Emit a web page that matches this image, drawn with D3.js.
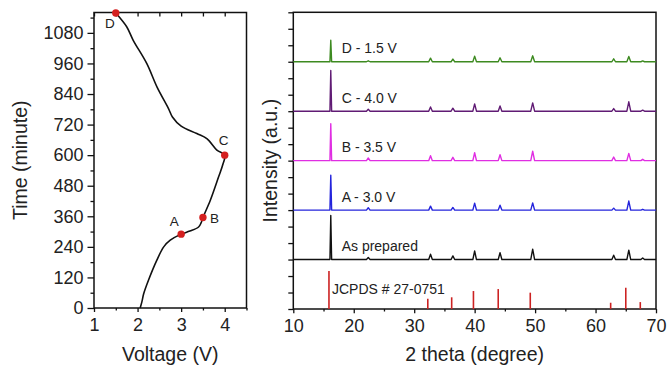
<!DOCTYPE html>
<html>
<head>
<meta charset="utf-8">
<script src="https://cdn.jsdelivr.net/npm/d3@7"></script>
<style>
  html, body { margin: 0; padding: 0; background: #fff; }
  svg { display: block; }
  text { font-family: "Liberation Sans", Arial, sans-serif; fill: #222; }
</style>
</head>
<body>
<svg id="chart" width="667" height="367"></svg>
<script>
// ---------- Left panel data: voltage vs time ----------
const curveVoltage = [2.06, 2.10, 2.14, 2.25, 2.44, 2.60, 2.75, 3.00, 3.20, 3.40, 3.46, 3.50, 3.67, 3.86, 3.96, 4.00,
                      3.82, 3.59, 3.36, 3.00, 2.80, 2.71, 2.45, 2.21, 1.90, 1.75, 1.50];
const curveTime    = [0, 25, 56, 109, 187, 240, 266, 290, 302, 318, 335, 355, 423, 515, 565, 600,
                      620, 665, 685, 714, 750, 783, 866, 960, 1051, 1104, 1158];
const pointLabels  = ["A", "B", "C", "D"];
const pointVoltage = [3.0, 3.5, 4.0, 1.5];
const pointTime    = [290, 355, 600, 1158];
const leftXTicks   = [1, 2, 3, 4];
const leftYTicks   = [0, 120, 240, 360, 480, 600, 720, 840, 960, 1080];

// ---------- Right panel data: XRD patterns ----------
const peakPositions = [16.2, 22.4, 32.7, 36.4, 40.0, 44.2, 49.6, 63.0, 65.5, 67.8];
const seriesNames   = ["As prepared", "A - 3.0 V", "B - 3.5 V", "C - 4.0 V", "D - 1.5 V"];
const seriesOffsets = [3, 6, 9, 12, 15];
const heightsAsPrepared = [2.67, 0.12, 0.32, 0.22, 0.52, 0.42, 0.63, 0.26, 0.57, 0.10];
const heightsA          = [2.12, 0.14, 0.24, 0.16, 0.42, 0.30, 0.44, 0.12, 0.55, 0.05];
const heightsB          = [2.24, 0.16, 0.30, 0.20, 0.48, 0.36, 0.57, 0.22, 0.44, 0.08];
const heightsC          = [2.47, 0.12, 0.26, 0.18, 0.44, 0.32, 0.50, 0.16, 0.57, 0.06];
const heightsD          = [1.31, 0.06, 0.22, 0.16, 0.34, 0.24, 0.36, 0.18, 0.32, 0.05];
const jcpdsLabel     = "JCPDS # 27-0751";
const jcpdsPositions = [15.9, 32.25, 36.2, 39.8, 43.9, 49.2, 62.5, 65.0, 67.4];
const jcpdsHeights   = [2.3, 0.62, 0.71, 1.09, 1.21, 0.99, 0.38, 1.29, 0.42];
const rightXTicks    = [10, 20, 30, 40, 50, 60, 70];

// ---------- styles ----------
const seriesColors = ["#111111", "#2424dc", "#e02ee2", "#601b74", "#3d8a20"];
const jcpdsColor = "#cc2222";
const markerColor = "#d42020";
const font = '"Liberation Sans", Arial, sans-serif';

const svg = d3.select("#chart");

// ================= LEFT PANEL =================
const L = { x0: 94, x1: 246.5, y0: 308, y1: 12.5 };
const xL = d3.scaleLinear().domain([1, 4.5]).range([L.x0, L.x1]);
const yL = d3.scaleLinear().domain([0, 1160]).range([L.y0, L.y1]);
const gL = svg.append("g");

gL.append("g").attr("transform", `translate(0,${L.y0})`)
  .call(d3.axisBottom(xL).tickValues(leftXTicks).tickSize(4).tickPadding(6).tickFormat(d3.format("d")))
  .call(g => g.select(".domain").remove())
  .call(g => g.selectAll("line").attr("stroke", "#111").attr("stroke-width", 1.3))
  .call(g => g.selectAll("text").attr("font-size", 18).attr("font-family", font).attr("fill", "#222"));
gL.append("g").attr("transform", `translate(0,${L.y0})`)
  .call(d3.axisBottom(xL).tickValues([1.5, 2.5, 3.5, 4.5]).tickSize(2.5).tickFormat(""))
  .call(g => g.select(".domain").remove())
  .call(g => g.selectAll("line").attr("stroke", "#111").attr("stroke-width", 1.3));
gL.append("g").attr("transform", `translate(0,${L.y1})`)
  .call(d3.axisBottom(xL).tickValues([1, 1.5, 2, 2.5, 3, 3.5, 4]).tickSize(4).tickFormat(""))
  .call(g => g.select(".domain").remove())
  .call(g => g.selectAll("line").attr("stroke", "#111").attr("stroke-width", 1.3));

gL.append("g").attr("transform", `translate(${L.x0},0)`)
  .call(d3.axisLeft(yL).tickValues(leftYTicks).tickSize(6.5).tickPadding(4).tickFormat(d3.format("d")))
  .call(g => g.select(".domain").remove())
  .call(g => g.selectAll("line").attr("stroke", "#111").attr("stroke-width", 1.3))
  .call(g => g.selectAll("text").attr("font-size", 18).attr("font-family", font).attr("fill", "#222"));
gL.append("g").attr("transform", `translate(${L.x0},0)`)
  .call(d3.axisLeft(yL).tickValues(leftYTicks.map(d => d + 60)).tickSize(3.5).tickFormat(""))
  .call(g => g.select(".domain").remove())
  .call(g => g.selectAll("line").attr("stroke", "#111").attr("stroke-width", 1.3));

gL.append("rect").attr("x", L.x0).attr("y", L.y1).attr("width", L.x1 - L.x0).attr("height", L.y0 - L.y1)
  .attr("fill", "none").attr("stroke", "#111").attr("stroke-width", 1.5);

const curvePts = curveVoltage.map((v, i) => [v, curveTime[i]]);
gL.append("path").datum(curvePts)
  .attr("d", d3.line().x(d => xL(d[0])).y(d => yL(d[1])).curve(d3.curveCatmullRom.alpha(0.5)))
  .attr("fill", "none").attr("stroke", "#111").attr("stroke-width", 1.6);

const labelOffsets = [[-7, -8, "middle"], [7, 5, "start"], [-1, -10, "middle"], [-6, 15, "middle"]];
pointLabels.forEach((lab, i) => {
  gL.append("circle").attr("cx", xL(pointVoltage[i])).attr("cy", yL(pointTime[i])).attr("r", 3.7)
    .attr("fill", markerColor);
  gL.append("text").attr("x", xL(pointVoltage[i]) + labelOffsets[i][0])
    .attr("y", yL(pointTime[i]) + labelOffsets[i][1])
    .attr("text-anchor", labelOffsets[i][2]).attr("font-size", 13.5).text(lab);
});

gL.append("text").attr("x", (L.x0 + L.x1) / 2).attr("y", 361).attr("text-anchor", "middle")
  .attr("font-size", 19.5).text("Voltage (V)");
gL.append("text").attr("transform", `translate(27,${(L.y0 + L.y1) / 2}) rotate(-90)`)
  .attr("text-anchor", "middle").attr("font-size", 19.5).text("Time (minute)");

// ================= RIGHT PANEL =================
const R = { x0: 293.3, x1: 656, y0: 309, y1: 12.3 };
const xR = d3.scaleLinear().domain([10, 70]).range([R.x0, R.x1]);
const yR = d3.scaleLinear().domain([0, 18]).range([R.y0, R.y1]);
const gR = svg.append("g");

gR.append("g").attr("transform", `translate(0,${R.y0})`)
  .call(d3.axisBottom(xR).tickValues(rightXTicks).tickSize(4.3).tickPadding(6).tickFormat(d3.format("d")))
  .call(g => g.select(".domain").remove())
  .call(g => g.selectAll("line").attr("stroke", "#111").attr("stroke-width", 1.3))
  .call(g => g.selectAll("text").attr("font-size", 18).attr("font-family", font).attr("fill", "#222"));
gR.append("g").attr("transform", `translate(0,${R.y0})`)
  .call(d3.axisBottom(xR).tickValues(rightXTicks.slice(0, -1).map(d => d + 5)).tickSize(2.5).tickFormat(""))
  .call(g => g.select(".domain").remove())
  .call(g => g.selectAll("line").attr("stroke", "#111").attr("stroke-width", 1.3));
gR.append("g").attr("transform", `translate(${R.x0},0)`)
  .call(d3.axisLeft(yR).tickValues(d3.range(0, 19)).tickSize(5).tickFormat(""))
  .call(g => g.select(".domain").remove())
  .call(g => g.selectAll("line").attr("stroke", "#111").attr("stroke-width", 1.3));

gR.append("rect").attr("x", R.x0).attr("y", R.y1).attr("width", R.x1 - R.x0).attr("height", R.y0 - R.y1)
  .attr("fill", "none").attr("stroke", "#111").attr("stroke-width", 1.5);

const allHeights = [heightsAsPrepared, heightsA, heightsB, heightsC, heightsD];
const halfWidth = [0.14, 0.3, 0.3, 0.3, 0.3, 0.3, 0.32, 0.3, 0.32, 0.3];
const line = d3.line().x(d => xR(d[0])).y(d => yR(d[1]));
allHeights.forEach((hs, si) => {
  const off = seriesOffsets[si];
  const pts = [[10, off]];
  peakPositions.forEach((p, k) => {
    pts.push([p - halfWidth[k], off]);
    pts.push([p, off + hs[k]]);
    pts.push([p + halfWidth[k], off]);
  });
  pts.push([70, off]);
  gR.append("path").datum(pts).attr("d", line)
    .attr("fill", "none").attr("stroke", seriesColors[si]).attr("stroke-width", 1.4)
    .attr("stroke-linejoin", "round");
  gR.append("text").attr("x", xR(18)).attr("y", yR(off) - 8.5)
    .attr("font-size", 14).text(seriesNames[si]);
});

gR.selectAll("line.jcpds").data(jcpdsPositions).enter().append("line")
  .attr("x1", d => xR(d)).attr("x2", d => xR(d))
  .attr("y1", yR(0)).attr("y2", (d, i) => yR(jcpdsHeights[i]))
  .attr("stroke", jcpdsColor).attr("stroke-width", 1.6);
gR.append("text").attr("x", xR(16.4)).attr("y", yR(0) - 14.7).attr("font-size", 14).text(jcpdsLabel);

gR.append("text").attr("x", (R.x0 + R.x1) / 2).attr("y", 361).attr("text-anchor", "middle")
  .attr("font-size", 19.5).text("2 theta (degree)");
gR.append("text").attr("transform", `translate(277,${(R.y0 + R.y1) / 2}) rotate(-90)`)
  .attr("text-anchor", "middle").attr("font-size", 19.5).text("Intensity (a.u.)");
</script>
</body>
</html>
